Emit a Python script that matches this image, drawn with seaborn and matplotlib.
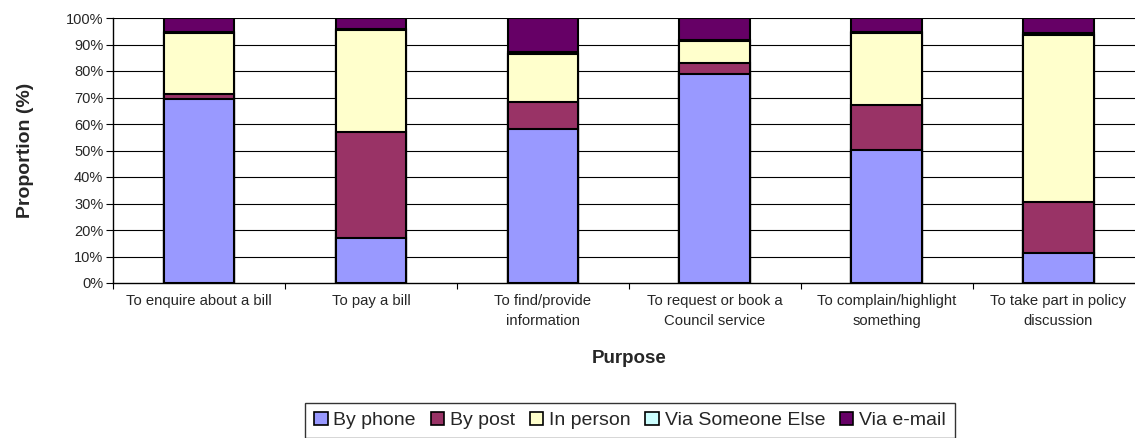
import matplotlib
matplotlib.use("Agg")
import matplotlib.pyplot as plt
import seaborn as sns
import pandas as pd
import numpy as np
from matplotlib.patches import Patch
from matplotlib.ticker import FixedLocator

categories = [
    "To enquire about a bill",
    "To pay a bill",
    "To find/provide\ninformation",
    "To request or book a\nCouncil service",
    "To complain/highlight\nsomething",
    "To take part in policy\ndiscussion",
]
series_names = ["By phone", "By post", "In person", "Via Someone Else", "Via e-mail"]
by_phone = [69.4, 17.0, 58.1, 78.7, 50.3, 11.3]
by_post = [2.0, 39.8, 10.1, 4.3, 17.0, 19.3]
in_person = [22.9, 38.5, 18.3, 8.3, 27.0, 63.1]
via_someone_else = [0.3, 0.5, 0.5, 0.3, 0.5, 0.5]
via_email = [5.4, 4.2, 13.0, 8.4, 5.2, 5.8]
colors = ["#9999FF", "#993366", "#FFFFCC", "#CCFFFF", "#660066"]
ytick_labels = ["0%", "10%", "20%", "30%", "40%", "50%", "60%", "70%", "80%", "90%", "100%"]

sns.set_theme(style="white")
plt.rcParams["font.family"] = ["Liberation Sans", "DejaVu Sans"]

series = [by_phone, by_post, in_person, via_someone_else, via_email]
df = pd.DataFrame({"Purpose": categories})
cum = np.zeros(len(categories))
for name, vals in zip(series_names, series):
    cum = cum + np.array(vals)
    df[name] = cum

fig = plt.figure(figsize=(11.35, 4.38), dpi=100)
ax = fig.add_axes([113 / 1135, 155 / 438, (1144.5 - 113) / 1135, 265 / 438])

for y in range(10, 101, 10):
    ax.axhline(y, color="black", lw=0.8, zorder=0)

# draw cumulative totals from top layer down so each overlays the previous
for name, col in reversed(list(zip(series_names, colors))):
    sns.barplot(data=df, x="Purpose", y=name, order=categories, color=col,
                saturation=1, width=0.41, edgecolor="black", linewidth=1.5,
                ax=ax, zorder=2)

ax.set_xlim(-0.5, 5.5)
ax.set_ylim(0, 100)
ax.set_yticks(range(0, 101, 10))
ax.set_yticklabels(ytick_labels, fontsize=10.5)
ax.tick_params(axis="y", direction="out", length=5, width=0.8, color="black",
               left=True, pad=2)
ax.tick_params(axis="x", which="major", length=0, pad=8, labelsize=10.7)
ax.xaxis.set_minor_locator(FixedLocator(np.arange(-0.5, 6, 1)))
ax.tick_params(axis="x", which="minor", direction="out", length=4, width=0.8,
               color="black", bottom=True)
for lab in ax.get_xticklabels():
    lab.set_linespacing(1.55)
for s in ["top", "right"]:
    ax.spines[s].set_visible(False)
for s in ["left", "bottom"]:
    ax.spines[s].set_color("black")
    ax.spines[s].set_linewidth(1.0)
ax.set_xlabel("Purpose", fontsize=13.5, fontweight="bold", labelpad=16)
ax.set_ylabel("Proportion (%)", fontsize=14, fontweight="bold", labelpad=23)

handles = [Patch(facecolor=c, edgecolor="black", linewidth=1.2) for c in colors]
leg = fig.legend(handles, series_names, loc="upper center",
                 bbox_to_anchor=(630 / 1135, 1 - 403 / 438), ncol=5,
                 fontsize=14, frameon=True, fancybox=False, edgecolor="black",
                 handlelength=0.7, handleheight=0.7, handletextpad=0.3,
                 columnspacing=0.75, borderpad=0.45, borderaxespad=0)
leg.get_frame().set_linewidth(1.0)

fig.savefig("out.png", dpi=100)
